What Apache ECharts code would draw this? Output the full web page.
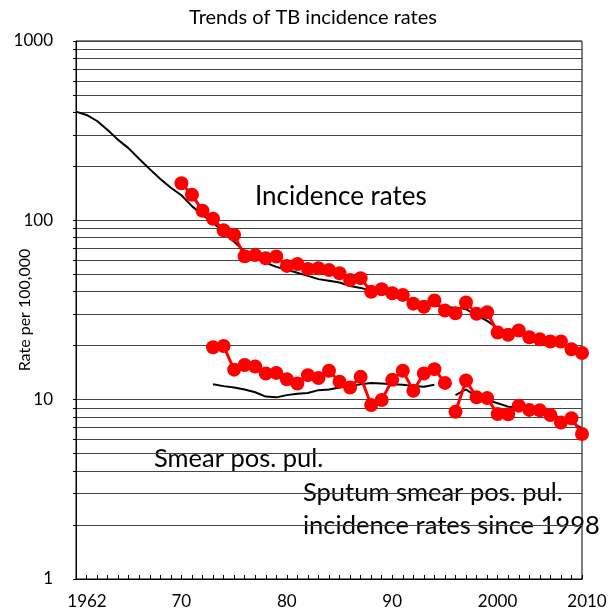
<!DOCTYPE html>
<html>
<head>
<meta charset="utf-8">
<script src="https://cdn.jsdelivr.net/npm/echarts@6/dist/echarts.min.js"></script>
<style>
  html, body { margin: 0; padding: 0; background: #fff; }
  #chart { width: 615px; height: 615px; }
</style>
</head>
<body>
<div id="chart"></div>
<script>
// years on the x axis
const years = [
  1962, 1963, 1964, 1965, 1966, 1967, 1968, 1969, 1970, 1971,
  1972, 1973, 1974, 1975, 1976, 1977, 1978, 1979, 1980, 1981,
  1982, 1983, 1984, 1985, 1986, 1987, 1988, 1989, 1990, 1991,
  1992, 1993, 1994, 1995, 1996, 1997, 1998, 1999, 2000, 2001,
  2002, 2003, 2004, 2005, 2006, 2007, 2008, 2009, 2010
]

// black trend line, all forms
const incidenceTrend = [
  404, 387, 358, 319, 281, 252, 220, 193, 170, 152,
  138, 120, 107, 97, 86, 76, 67, 62, 58, 55,
  53, 51, 49, 47, 46, 45, 43, 42, 40.5, 39.5,
  38.5, 37, 35, 34, 33.5, 33, 32.5, 32, 29.5, 27.5,
  25, 24, 23.5, 22.5, 21.5, 21, 20.5, 19.5, 18.5
]

// red points, all forms (from 1972)
const incidenceRate = [
  null, null, null, null, null, null, null, null, null, null,
  161, 139, 113, 102, 88, 83, 63, 64, 61.5, 62.8,
  55.7, 57.1, 53.6, 54, 52.9, 50.7, 46.5, 47.6, 40, 41.3,
  39.2, 38.4, 34.3, 33.0, 35.7, 31.4, 30.3, 34.8, 30.1, 30.7,
  23.7, 23.0, 24.3, 22.3, 21.7, 21.1, 21.1, 19.1, 18.2
]

// black trend line, smear positive pulmonary
const smearTrend = [
  null, null, null, null, null, null, null, null, null, null,
  null, null, null, 12.2, 11.9, 11.7, 11.4, 11.0, 10.4, 10.3,
  10.6, 10.8, 10.9, 11.3, 11.4, 11.7, 11.9, 12.2, 12.4, 12.3,
  12.2, 12.1, 11.9, 11.8, 12.1, null, 10.6, 11.4, 10.4, 9.96,
  9.55, 9.14, 9.1, 8.88, 8.65, 8.31, 7.9, 7.5, 6.92
]

// red points, smear positive pulmonary up to 1997
const smearRateOld = [
  null, null, null, null, null, null, null, null, null, null,
  null, null, null, 19.6, 19.9, 14.7, 15.6, 15.3, 14.0, 14.1,
  13.0, 12.3, 13.7, 13.2, 14.5, 12.6, 11.7, 13.4, 9.34, 9.96,
  12.9, 14.5, 11.2, 14.0, 14.8, 12.4, null, null, null, null,
  null, null, null, null, null, null, null, null, null
]

// red points, sputum smear positive pulmonary since 1998
const smearRateNew = [
  null, null, null, null, null, null, null, null, null, null,
  null, null, null, null, null, null, null, null, null, null,
  null, null, null, null, null, null, null, null, null, null,
  null, null, null, null, null, null, 8.57, 12.8, 10.3, 10.2,
  8.32, 8.3, 9.26, 8.77, 8.72, 8.22, 7.45, 7.87, 6.44
]

const xTickYears = [1962, 1970, 1980, 1990, 2000, 2010]
const xTickLabels = ['1962', '70', '80', '90', '2000', '2010']
const yLabelValues = [1, 10, 100, 1000]
const yGridValues = [
  1, 2, 3, 4, 5, 6, 7, 8, 9,
  10, 20, 30, 40, 50, 60, 70, 80, 90,
  100, 200, 300, 400, 500, 600, 700, 800, 900, 1000
]

const FONT = 'Lato'
const toPairs = arr => years.map((y, i) => [y, arr[i]])

const blackLine = data => ({
  type: 'line',
  data: toPairs(data),
  showSymbol: false,
  connectNulls: false,
  lineStyle: { color: '#000', width: 2 },
  silent: true
})
const redLine = data => ({
  type: 'line',
  data: toPairs(data),
  symbol: 'circle',
  symbolSize: 14,
  showSymbol: true,
  connectNulls: false,
  itemStyle: { color: '#ff0000' },
  lineStyle: { color: '#ff0000', width: 3 },
  silent: true
})

// label styles, shifts the typed year labels like in the source
const labelStyle = idx => (idx === 0 ? 'a' : idx === xTickYears.length - 1 ? 'c' : 'b')

const chart = echarts.init(document.getElementById('chart'))
chart.setOption({
  animation: false,
  title: {
    text: 'Trends of TB incidence rates',
    left: 308,
    top: 3,
    textAlign: 'center',
    textStyle: { fontFamily: FONT, fontSize: 20, fontWeight: 'normal', color: '#000' }
  },
  grid: {
    left: 76, right: 33, top: 41, bottom: 36,
    outerBoundsMode: 'none',
    containLabel: false,
    show: true, borderColor: '#000', borderWidth: 1
  },
  xAxis: {
    type: 'value',
    min: 1962,
    max: 2010,
    interval: 1,
    axisLine: { lineStyle: { color: '#000', width: 1 } },
    axisTick: { inside: true, length: 4, lineStyle: { color: '#000' } },
    splitLine: { show: false },
    axisLabel: {
      customValues: xTickYears,
      margin: 14,
      color: '#000',
      fontFamily: FONT,
      fontSize: 17,
      formatter: v => {
        const i = xTickYears.indexOf(v)
        return '{' + labelStyle(i) + '|' + xTickLabels[i] + '}'
      },
      rich: {
        a: { fontFamily: FONT, fontSize: 17, color: '#000', padding: [0, 0, 0, 22] },
        b: { fontFamily: FONT, fontSize: 17, color: '#000', padding: [0, 0, 0, 42] },
        c: { fontFamily: FONT, fontSize: 17, color: '#000', padding: [0, 0, 0, 10] }
      }
    }
  },
  yAxis: {
    type: 'log',
    logBase: 10,
    min: 1,
    max: 1000,
    name: 'Rate per 100,000',
    nameLocation: 'middle',
    nameRotate: 90,
    nameGap: 43,
    nameMoveOverlap: false,
    nameTextStyle: { fontFamily: FONT, fontSize: 16, color: '#000' },
    axisLine: { show: true, lineStyle: { color: '#000', width: 1 } },
    axisTick: { show: true, length: 3, customValues: yGridValues, lineStyle: { color: '#000' } },
    splitLine: { show: true, lineStyle: { color: '#444', width: 1 } },
    axisLabel: {
      customValues: yLabelValues,
      margin: 23,
      color: '#000',
      fontFamily: FONT,
      fontSize: 17,
      formatter: v => String(v)
    }
  },
  graphic: [
    { type: 'text', x: 255, y: 197, style: { text: 'Incidence rates', fontFamily: FONT, fontSize: 26, fill: '#000', verticalAlign: 'middle' } },
    { type: 'text', x: 154, y: 459, style: { text: 'Smear pos. pul.', fontFamily: FONT, fontSize: 25.5, fill: '#000', verticalAlign: 'middle' } },
    { type: 'text', x: 303, y: 493, style: { text: 'Sputum smear pos. pul.', fontFamily: FONT, fontSize: 25.5, fill: '#000', verticalAlign: 'middle' } },
    { type: 'text', x: 303, y: 526, style: { text: 'incidence rates since 1998', fontFamily: FONT, fontSize: 25.5, fill: '#000', verticalAlign: 'middle' } }
  ],
  series: [
    blackLine(incidenceTrend),
    blackLine(smearTrend),
    redLine(incidenceRate),
    redLine(smearRateOld),
    redLine(smearRateNew)
  ]
})
</script>
</body>
</html>
